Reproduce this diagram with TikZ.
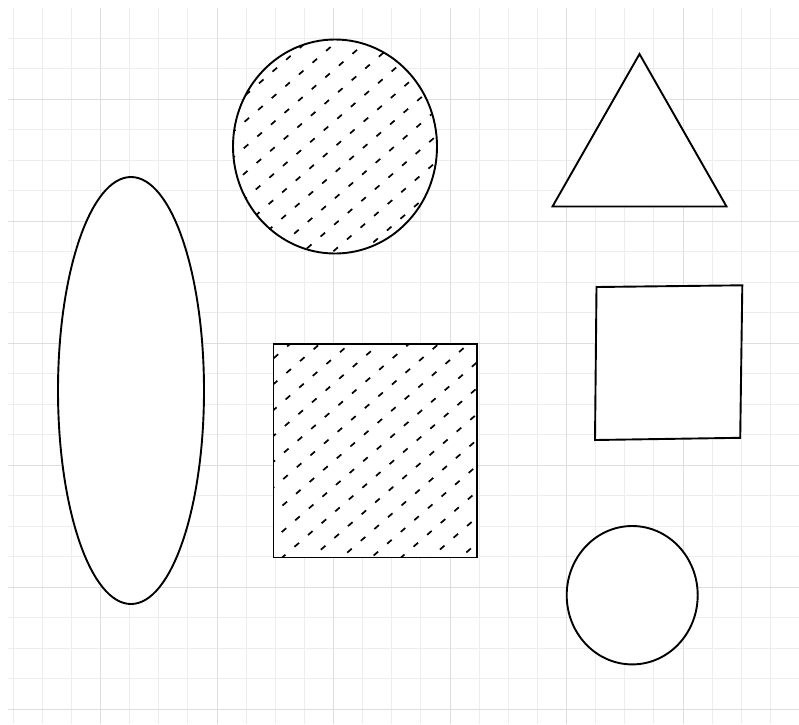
\documentclass[tikz,border=0pt]{standalone}
\usepackage{tikz}
\usetikzlibrary{calc}

\begin{document}
\begin{tikzpicture}[
    x=1pt, y=-1pt,
    kisi/.style={draw=black!7, line width=0.8pt},
    kisiutama/.style={draw=black!13, line width=0.8pt},
    bentuk/.style={draw=black, line width=1.9pt},
    arsir/.style={draw=black, line width=1.7pt, dash pattern=on 6pt off 12pt}
  ]
    \useasboundingbox (0,0) rectangle (799,724);
    \fill[white] (0,0) rectangle (799,724);

    % kisi latar
    \foreach \i in {0,...,26}
      \draw[kisi] (13.1+29.125*\i,8) -- (13.1+29.125*\i,724);
    \foreach \j in {0,...,22}
      \draw[kisi] (8,38+30.5*\j) -- (799,38+30.5*\j);
    \foreach \i in {3,7,...,23}
      \draw[kisiutama] (13.1+29.125*\i,8) -- (13.1+29.125*\i,724);
    \foreach \j in {2,6,...,22}
      \draw[kisiutama] (8,38+30.5*\j) -- (799,38+30.5*\j);

    % elips kiri
    \draw[bentuk, fill=white] (131,390.5) ellipse [x radius=73, y radius=213.5];

    % lingkaran berarsir
    \fill[white] (335,146.5) ellipse [x radius=102, y radius=107];
    \begin{scope}
      \clip (335,146.5) ellipse [x radius=102, y radius=107];
      \begin{scope}[shift={(335,146.5)}, rotate=41]
        \foreach \k in {-156,-136.5,...,160}
          \draw[arsir] (-160,\k) -- (160,\k);
      \end{scope}
    \end{scope}
    \draw[bentuk] (335,146.5) ellipse [x radius=102, y radius=107];

    % segitiga
    \draw[bentuk, fill=white] (639.5,54) -- (552.5,206.5) -- (726.5,206.5) -- cycle;

    % persegi berarsir
    \fill[white] (273.5,344) rectangle (477,557.5);
    \begin{scope}
      \clip (273.5,344) rectangle (477,557.5);
      \begin{scope}[shift={(375.25,450.75)}, rotate=41]
        \foreach \k in {-156,-136.5,...,160}
          \draw[arsir] (-160,\k) -- (160,\k);
      \end{scope}
    \end{scope}
    \draw[bentuk] (273.5,344) rectangle (477,557.5);

    % persegi kanan
    \draw[bentuk, fill=white] (596.5,287) -- (742.3,285.3) -- (740.2,437.8) -- (595,440) -- cycle;

    % lingkaran kecil
    \draw[bentuk, fill=white] (632.2,595.2) ellipse [x radius=65.5, y radius=69.2];
  \end{tikzpicture}
\end{document}
